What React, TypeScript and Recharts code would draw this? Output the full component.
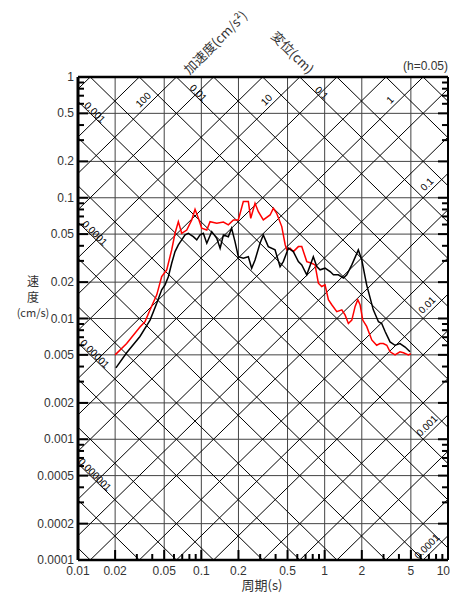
import React from "react";
import { ComposedChart, Line, XAxis, YAxis, ReferenceLine, ReferenceDot } from "recharts";

const TWO_PI = 2 * Math.PI;
const T_MIN = 0.01;
const T_MAX = 10;
const V_MIN = 0.0001;
const V_MAX = 1;

// tick labels
const X_LABELS = [0.01, 0.02, 0.05, 0.1, 0.2, 0.5, 1, 2, 5, 10];
const X_LABEL_TEXT = ["0.01", "0.02", "0.05", "0.1", "0.2", "0.5", "1", "2", "5", "10"];
const Y_LABELS = [1, 0.5, 0.2, 0.1, 0.05, 0.02, 0.01, 0.005, 0.002, 0.001, 0.0005, 0.0002, 0.0001];
const Y_LABEL_TEXT = ["1", "0.5", "0.2", "0.1", "0.05", "0.02", "0.01", "0.005", "0.002", "0.001", "0.0005", "0.0002", "0.0001"];

// grid
const X_GRID = [0.02, 0.05, 0.1, 0.2, 0.5, 1, 2, 5];
const Y_GRID = [0.5, 0.2, 0.1, 0.05, 0.02, 0.01, 0.005, 0.002, 0.001, 0.0005, 0.0002];
const MANTISSA = [1, 2, 5];
const MINOR = [1, 2, 3, 4, 5, 6, 7, 8, 9];
const X_DECADES = [0.01, 0.1, 1];
const Y_DECADES = [0.0001, 0.001, 0.01, 0.1];
const ACC_DECADES = [0.0001, 0.001, 0.01, 0.1, 1, 10, 100];
const DISP_DECADES = [0.0000001, 0.000001, 0.00001, 0.0001, 0.001, 0.01, 0.1, 1];

// diagonal labels
const ACC_TOP = [100, 10, 1];
const ACC_TOP_TEXT = ["100", "10", "1"];
const ACC_RIGHT = [0.1, 0.01, 0.001, 0.0001];
const ACC_RIGHT_TEXT = ["0.1", "0.01", "0.001", "0.0001"];
const DISP_TOP = [0.01, 0.1];
const DISP_TOP_TEXT = ["0.01", "0.1"];
const DISP_LEFT = [0.001, 0.0001, 0.00001, 0.000001];
const DISP_LEFT_TEXT = ["0.001", "0.0001", "0.00001", "0.000001"];

// spectra (period s, velocity cm/s)
const RED_T = [0.02, 0.0248, 0.0318, 0.0349, 0.0384, 0.0435, 0.0477, 0.0524, 0.0575, 0.0612, 0.0651, 0.0693, 0.0762, 0.0836, 0.0889, 0.0946, 0.1007, 0.1107, 0.1177, 0.1334, 0.151, 0.1656, 0.182, 0.1995, 0.219, 0.2405, 0.2515, 0.2725, 0.29, 0.318, 0.361, 0.384, 0.408, 0.449, 0.478, 0.493, 0.524, 0.557, 0.612, 0.652, 0.716, 0.786, 0.836, 0.889, 0.946, 1.007, 1.072, 1.142, 1.254, 1.377, 1.463, 1.557, 1.66, 1.766, 1.855, 1.936, 2.036, 2.19, 2.41, 2.64, 2.81, 2.99, 3.19, 3.39, 3.72, 4.08, 4.35, 4.77, 5.0];
const RED_V = [0.005, 0.0062, 0.0085, 0.0094, 0.0118, 0.0157, 0.0222, 0.0253, 0.037, 0.0508, 0.0634, 0.0508, 0.054, 0.0655, 0.0803, 0.0676, 0.0559, 0.054, 0.0634, 0.0615, 0.063, 0.0596, 0.0655, 0.0655, 0.0929, 0.093, 0.0676, 0.09, 0.0767, 0.0655, 0.072, 0.0818, 0.0744, 0.0577, 0.041, 0.037, 0.0382, 0.0358, 0.0394, 0.0394, 0.0296, 0.0287, 0.0278, 0.0196, 0.0184, 0.019, 0.0143, 0.013, 0.0114, 0.0118, 0.0107, 0.0091, 0.0097, 0.0126, 0.0143, 0.013, 0.0097, 0.0086, 0.00665, 0.006, 0.0062, 0.0062, 0.006, 0.0053, 0.005, 0.0053, 0.0052, 0.005, 0.0051];
const BLACK_T = [0.0203, 0.0248, 0.0318, 0.0384, 0.0435, 0.0477, 0.0508, 0.054, 0.0575, 0.0612, 0.0651, 0.0693, 0.0738, 0.0785, 0.0861, 0.0918, 0.0976, 0.1038, 0.1107, 0.1214, 0.1334, 0.142, 0.151, 0.1656, 0.176, 0.1875, 0.1995, 0.219, 0.2405, 0.256, 0.2725, 0.299, 0.318, 0.349, 0.396, 0.435, 0.462, 0.508, 0.557, 0.612, 0.652, 0.716, 0.809, 0.863, 0.918, 1.007, 1.107, 1.178, 1.292, 1.42, 1.51, 1.66, 1.875, 2.0, 2.19, 2.48, 2.73, 2.9, 3.09, 3.39, 3.72, 4.08, 4.49, 4.92];
const BLACK_V = [0.0039, 0.0052, 0.0071, 0.0097, 0.0134, 0.0173, 0.019, 0.0222, 0.0287, 0.0358, 0.0407, 0.0448, 0.0492, 0.0508, 0.0476, 0.0448, 0.0492, 0.0508, 0.042, 0.0524, 0.0462, 0.0382, 0.0492, 0.0476, 0.0559, 0.0433, 0.0325, 0.0316, 0.0325, 0.0261, 0.0305, 0.042, 0.0492, 0.0394, 0.037, 0.0269, 0.0296, 0.0382, 0.0358, 0.0296, 0.0278, 0.023, 0.0325, 0.0269, 0.0253, 0.0261, 0.0245, 0.023, 0.023, 0.0216, 0.023, 0.0278, 0.037, 0.0305, 0.019, 0.0118, 0.0094, 0.0091, 0.0078, 0.0064, 0.006, 0.0062, 0.0058, 0.0053];

const redData = RED_T.map((t, i) => ({ t, v: RED_V[i] }));
const blackData = BLACK_T.map((t, i) => ({ t, v: BLACK_V[i] }));

const X_TICKS = [...X_DECADES.flatMap((d) => MINOR.map((m) => +(d * m).toPrecision(6))), 10];
const Y_TICKS = [...Y_DECADES.flatMap((d) => MINOR.map((m) => +(d * m).toPrecision(6))), 1];

const NUM_FONT = "'Liberation Sans', Arial, sans-serif";
const JP_FONT = "'Noto Sans CJK JP', sans-serif";

function isLong(v: number) {
  const m = Math.round(v / Math.pow(10, Math.floor(Math.log10(v) + 1e-9)));
  return MANTISSA.includes(m);
}
function labelIndex(list: number[], v: number) {
  return list.findIndex((l) => Math.abs(l - v) / l < 1e-6);
}

// tripartite lines clipped to the plot box
function accSegment(a: number) {
  const t1 = Math.max(T_MIN, (TWO_PI * V_MIN) / a);
  const t2 = Math.min(T_MAX, (TWO_PI * V_MAX) / a);
  if (t1 >= t2 * 0.9999) return null;
  return [{ x: t1, y: (a * t1) / TWO_PI }, { x: t2, y: (a * t2) / TWO_PI }];
}
function dispSegment(d: number) {
  const t1 = Math.max(T_MIN, (TWO_PI * d) / V_MAX);
  const t2 = Math.min(T_MAX, (TWO_PI * d) / V_MIN);
  if (t1 >= t2 * 0.9999) return null;
  return [{ x: t1, y: (TWO_PI * d) / t1 }, { x: t2, y: (TWO_PI * d) / t2 }];
}
const ACC_LINES = ACC_DECADES.flatMap((d) => MANTISSA.map((m) => accSegment(d * m))).filter(Boolean) as any[];
const DISP_LINES = DISP_DECADES.flatMap((d) => MANTISSA.map((m) => dispSegment(d * m))).filter(Boolean) as any[];

const TICK_W = 2;

const BottomTick = (p: any) => {
  const v = p.payload.value;
  const i = labelIndex(X_LABELS, v);
  const len = isLong(v) ? 10 : 6;
  const last = i === X_LABELS.length - 1;
  return (
    <g>
      <line x1={p.x} x2={p.x} y1={p.y} y2={p.y - len} stroke="#000" strokeWidth={TICK_W} />
      {i >= 0 && (
        <text
          x={last ? 450 : p.x}
          y={p.y + 11}
          textAnchor={last ? "end" : "middle"}
          dominantBaseline="central"
          fontSize={12}
          fontFamily={NUM_FONT}
          fill="#333"
        >
          {X_LABEL_TEXT[i]}
        </text>
      )}
    </g>
  );
};
const TopTick = (p: any) => {
  const len = isLong(p.payload.value) ? 10 : 6;
  return <line x1={p.x} x2={p.x} y1={p.y} y2={p.y + len} stroke="#000" strokeWidth={TICK_W} />;
};
const LeftTick = (p: any) => {
  const v = p.payload.value;
  const i = labelIndex(Y_LABELS, v);
  const len = isLong(v) ? 10 : 6;
  return (
    <g>
      <line x1={p.x} x2={p.x + len} y1={p.y} y2={p.y} stroke="#000" strokeWidth={TICK_W} />
      {i >= 0 && (
        <text x={p.x - 4} y={p.y} textAnchor="end" dominantBaseline="central" fontSize={12} fontFamily={NUM_FONT} fill="#333">
          {Y_LABEL_TEXT[i]}
        </text>
      )}
    </g>
  );
};
const RightTick = (p: any) => {
  const len = isLong(p.payload.value) ? 10 : 6;
  return <line x1={p.x} x2={p.x - len} y1={p.y} y2={p.y} stroke="#000" strokeWidth={TICK_W} />;
};

const diagLabel = (text: string, angle: number, offset: number) => (p: any) => (
  <text
    x={p.cx}
    y={p.cy}
    dy={offset}
    transform={`rotate(${angle} ${p.cx} ${p.cy})`}
    textAnchor="middle"
    dominantBaseline="central"
    fontSize={10}
    fontFamily={NUM_FONT}
    fill="#000"
  >
    {text}
  </text>
);

const LOG_X = { type: "number" as const, scale: "log" as const, domain: [T_MIN, T_MAX], allowDataOverflow: true, ticks: X_TICKS, interval: 0 as const, height: 1, tickSize: 0, tickMargin: 0, tickLine: false };
const LOG_Y = { type: "number" as const, scale: "log" as const, domain: [V_MIN, V_MAX], allowDataOverflow: true, ticks: Y_TICKS, interval: 0 as const, width: 1, tickSize: 0, tickMargin: 0, tickLine: false };

export default function App() {
  return (
    <div style={{ position: "absolute", left: 0, top: 0, width: 450, height: 595, background: "#fff" }}>
      <ComposedChart width={450} height={595} margin={{ top: 76, right: 1, bottom: 34, left: 77 }}>
        <XAxis {...LOG_X} dataKey="t" axisLine={{ stroke: "#000", strokeWidth: 2.5 }} tick={BottomTick} />
        <XAxis {...LOG_X} xAxisId="top" orientation="top" axisLine={{ stroke: "#000", strokeWidth: 2.5 }} tick={TopTick} />
        <YAxis {...LOG_Y} axisLine={{ stroke: "#000", strokeWidth: 3 }} tick={LeftTick} />
        <YAxis {...LOG_Y} yAxisId="right" orientation="right" axisLine={{ stroke: "#000", strokeWidth: 2 }} tick={RightTick} />

        {X_GRID.map((t) => (
          <ReferenceLine key={`gx${t}`} x={t} stroke="#444" strokeWidth={1} ifOverflow="visible" />
        ))}
        {Y_GRID.map((v) => (
          <ReferenceLine key={`gy${v}`} y={v} stroke="#444" strokeWidth={1} ifOverflow="visible" />
        ))}
        {ACC_LINES.map((s, i) => (
          <ReferenceLine key={`a${i}`} segment={s} stroke="#000" strokeWidth={1} ifOverflow="visible" />
        ))}
        {DISP_LINES.map((s, i) => (
          <ReferenceLine key={`d${i}`} segment={s} stroke="#000" strokeWidth={1} ifOverflow="visible" />
        ))}

        {ACC_TOP.map((a, i) => (
          <ReferenceDot key={`at${a}`} x={(TWO_PI * 0.59) / a} y={0.59} r={0} ifOverflow="visible" shape={diagLabel(ACC_TOP_TEXT[i], -45, -7)} />
        ))}
        {ACC_RIGHT.map((a, i) => (
          <ReferenceDot key={`ar${a}`} x={7.4} y={(a * 7.4) / TWO_PI} r={0} ifOverflow="visible" shape={diagLabel(ACC_RIGHT_TEXT[i], -45, -7)} />
        ))}
        {DISP_TOP.map((d, i) => (
          <ReferenceDot key={`dt${d}`} x={(TWO_PI * d) / 0.7} y={0.7} r={0} ifOverflow="visible" shape={diagLabel(DISP_TOP_TEXT[i], 45, -4)} />
        ))}
        {DISP_LEFT.map((d, i) => (
          <ReferenceDot key={`dl${d}`} x={0.013} y={(TWO_PI * d) / 0.013} r={0} ifOverflow="visible" shape={diagLabel(DISP_LEFT_TEXT[i], 45, -4)} />
        ))}

        <Line data={redData} dataKey="v" type="linear" stroke="#ff0000" strokeWidth={1.5} dot={false} isAnimationActive={false} />
        <Line data={blackData} dataKey="v" type="linear" stroke="#000" strokeWidth={1.5} dot={false} isAnimationActive={false} />
      </ComposedChart>
      <svg width={450} height={595} style={{ position: "absolute", left: 0, top: 0, pointerEvents: "none" }}>
        <text x={448} y={66} textAnchor="end" dominantBaseline="central" fontSize={12} fontFamily={NUM_FONT} fill="#333">
          (h=0.05)
        </text>
        <text x={215} y={42} transform="rotate(-45 215 42)" textAnchor="middle" dominantBaseline="central" fontSize={13} fontFamily={JP_FONT} fill="#333">
          加速度(cm/s²)
        </text>
        <text x={293} y={52} transform="rotate(45 293 52)" textAnchor="middle" dominantBaseline="central" fontSize={13} fontFamily={JP_FONT} fill="#333">
          変位(cm)
        </text>
        <text x={33} y={280} textAnchor="middle" dominantBaseline="central" fontSize={12} fontFamily={JP_FONT} fill="#333">速</text>
        <text x={33} y={296} textAnchor="middle" dominantBaseline="central" fontSize={12} fontFamily={JP_FONT} fill="#333">度</text>
        <text x={33} y={312} textAnchor="middle" dominantBaseline="central" fontSize={11} fontFamily={JP_FONT} fill="#333">(cm/s)</text>
        <text x={262} y={584} textAnchor="middle" dominantBaseline="central" fontSize={13} fontFamily={JP_FONT} fill="#333">周期(s)</text>
      </svg>
    </div>
  );
}
